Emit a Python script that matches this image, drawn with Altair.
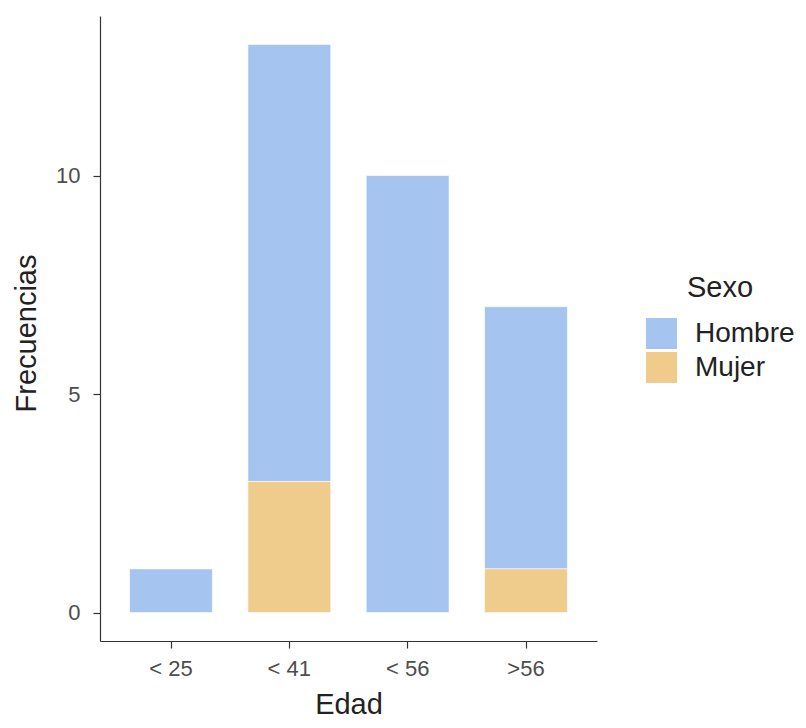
import altair as alt
import pandas as pd

edad = ["< 25", "< 41", "< 56", ">56"]
hombre = [1, 10, 10, 6]
mujer = [0, 3, 0, 1]
sexos = ["Hombre", "Mujer"]
colores = ["#A6C4F0", "#EFCC8B"]

rows = []
for e, h, m in zip(edad, hombre, mujer):
    if h > 0:
        rows.append({"Edad": e, "Sexo": "Hombre", "Frecuencias": h, "orden": 1})
    if m > 0:
        rows.append({"Edad": e, "Sexo": "Mujer", "Frecuencias": m, "orden": 0})
df = pd.DataFrame(rows)

FONT = "Liberation Sans"

chart = alt.Chart(df).mark_bar(
    stroke="#ffffff", strokeWidth=1, strokeOpacity=0.6, opacity=1
).encode(
    x=alt.X("Edad:N", sort=edad,
            scale=alt.Scale(paddingInner=0.3, paddingOuter=0.25),
            axis=alt.Axis(title="Edad", labelAngle=0, tickSize=7, labelPadding=10,
                          titlePadding=11)),
    y=alt.Y("Frecuencias:Q", stack="zero",
            scale=alt.Scale(domain=[-0.65, 13.65], nice=False, zero=False),
            axis=alt.Axis(title="Frecuencias", values=[0, 5, 10], tickSize=7,
                          labelPadding=13, titlePadding=14, titleY=317)),
    color=alt.Color("Sexo:N", scale=alt.Scale(domain=sexos, range=colores),
                    legend=alt.Legend(title="Sexo", orient="none", legendX=546, legendY=258,
                                      symbolType="square", symbolSize=961,
                                      symbolStrokeWidth=0, symbolOpacity=1,
                                      titleAnchor="middle", titlePadding=15,
                                      labelOffset=18, rowPadding=3,
                                      titleFontSize=29, labelFontSize=28,
                                      titleFontWeight="normal",
                                      titleColor="#222222", labelColor="#222222",
                                      titleFont=FONT, labelFont=FONT)),
    order=alt.Order("orden:Q", sort="ascending"),
).properties(
    width=497, height=625,
    autosize=alt.AutoSizeParams(type="none"),
    padding={"left": 92, "top": 8, "right": 201, "bottom": 79},
).configure_view(stroke=None).configure_axis(
    grid=False, domainColor="#333333", tickColor="#333333",
    domainWidth=1.2, tickWidth=1.2,
    labelFont=FONT, titleFont=FONT, labelFontSize=22, titleFontSize=29,
    labelColor="#4d4d4d", titleColor="#222222", titleFontWeight="normal",
)

chart.save("out.html", embed_options={"renderer": "svg", "actions": False})
